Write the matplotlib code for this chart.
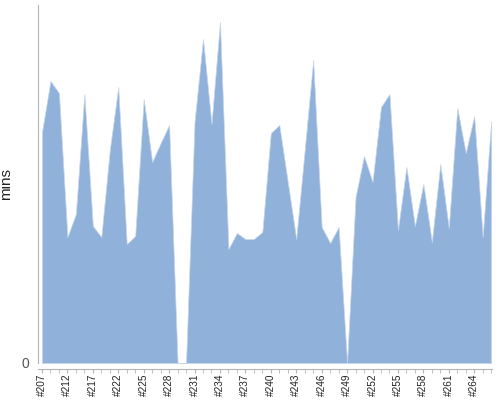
import numpy as np
import matplotlib
matplotlib.use("Agg")
import matplotlib.pyplot as plt

# ===== build numbers (only every third one is labelled) =====
builds = ([207, 208, 210, 212, 213, 215, 217, 219, 220]
          + list(range(222, 267)))
labels = ["#%d" % b for b in builds]

# ===== build duration (mins) =====
mins = [23.1, 28.2, 27.0, 12.6, 14.9, 26.9, 13.7, 12.6, 21.3, 27.6,
        11.9, 12.7, 26.4, 20.1, 22.0, 23.8, 0.0, 0.0, 24.1, 32.4,
        23.9, 34.1, 11.4, 13.0, 12.4, 12.4, 13.1, 23.0, 23.8, 18.1,
        12.4, 21.3, 30.3, 13.6, 12.0, 13.6, 0.0, 16.6, 20.7, 18.1,
        25.6, 26.9, 13.3, 19.6, 13.7, 17.9, 12.1, 19.9, 13.5, 25.5,
        21.0, 24.7, 12.6, 24.2]

x = np.arange(len(mins))

fig = plt.figure(figsize=(5, 4), dpi=100)
ax = fig.add_axes([0.076, 0.0925, 0.908, 0.895])

ax.fill_between(x, mins, 0, color="#8fb1da", linewidth=0.5,
                edgecolor="#c8d6ea")

ax.set_xlim(-0.47, len(mins) - 0.9)
ax.set_ylim(0, 35.8)

# --- axes look ---
for s in ["top", "right"]:
    ax.spines[s].set_visible(False)
ax.spines["left"].set_color("#b4b4b4")
ax.spines["bottom"].set_color("#b4b4b4")
ax.spines["bottom"].set_position(("outward", 4))

ax.set_xticks(x, minor=True)
ax.set_xticks(x[::3])
ax.set_xticklabels(labels[::3], rotation=90, fontsize=7.2,
                   family="Liberation Sans", color="#222222")
ax.tick_params(axis="x", which="both", length=3, color="#b4b4b4",
               direction="out", pad=0.5)

ax.set_yticks([0])
ax.set_yticklabels(["0"], fontsize=10, family="Liberation Sans",
                   color="#555555")
ax.tick_params(axis="y", length=0, pad=6)

ax.set_ylabel("mins", fontsize=11, family="Liberation Sans",
              color="#222222")
ax.yaxis.set_label_coords(-0.055, 0.5)

plt.savefig("out.png", dpi=100)
